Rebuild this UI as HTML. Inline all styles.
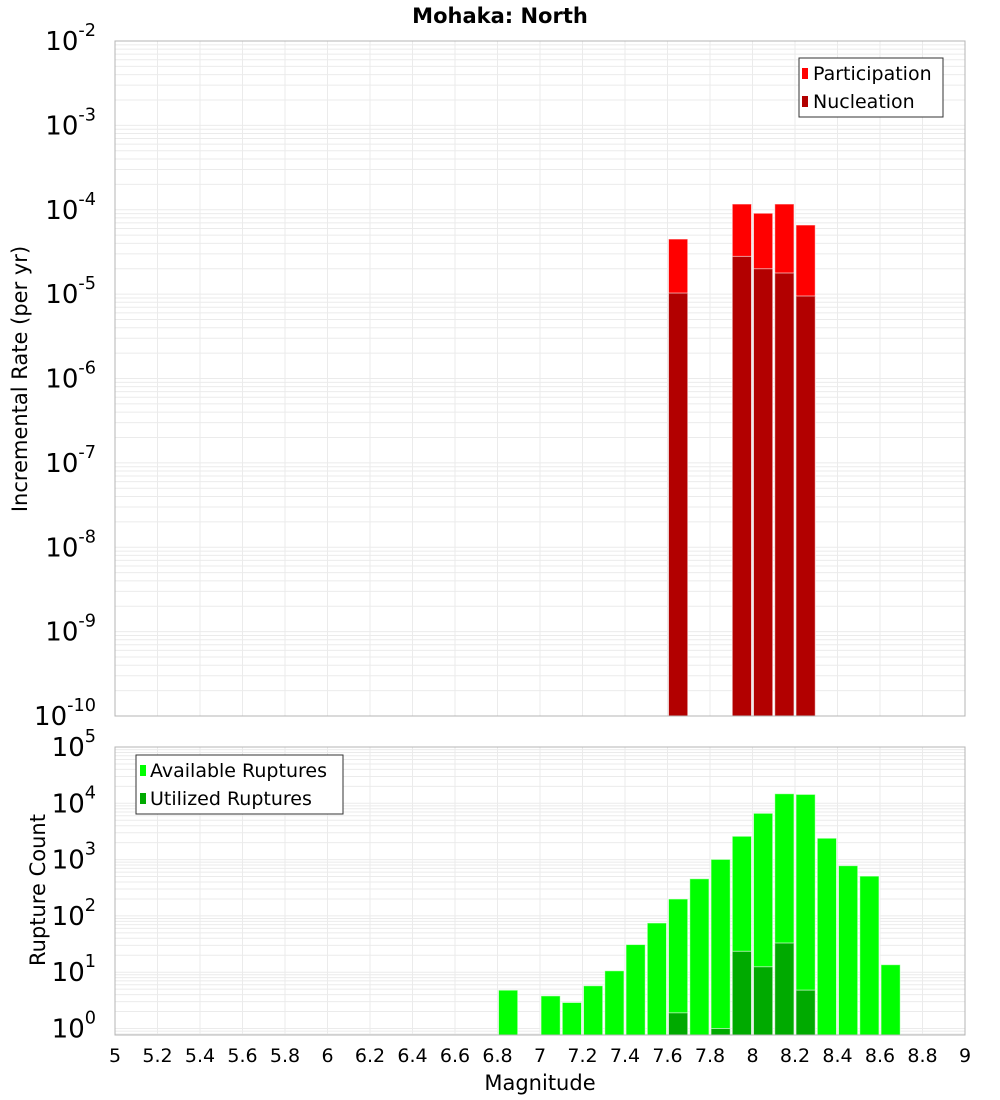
<!DOCTYPE html>
<html><head><meta charset="utf-8"><style>
body{margin:0;background:#fff;}
svg{display:block;font-family:"DejaVu Sans","Liberation Sans",sans-serif;}
</style></head><body>
<svg id="chart" width="1000" height="1100">
<text x="500" y="23" text-anchor="middle" font-size="21" font-weight="bold">Mohaka: North</text>
<g id="top"></g><g id="bot"></g>
<text transform="translate(27,379) rotate(-90)" text-anchor="middle" font-size="21">Incremental Rate (per yr)</text>
<text transform="translate(45,890) rotate(-90)" text-anchor="middle" font-size="21">Rupture Count</text>
<text x="540" y="1090" text-anchor="middle" font-size="21">Magnitude</text>
</svg>
<script>
const binCenters=[6.85,6.95,7.05,7.15,7.25,7.35,7.45,7.55,7.65,7.75,7.85,7.95,8.05,8.15,8.25,8.35,8.45,8.55,8.65];
const available=[4.8,0,3.8,2.9,5.75,10.6,31,75,200,457,1010,2600,6650,14800,14400,2400,780,510,13.6];
const utilized=[0,0,0,0,0,0,0,0,1.9,0,1.0,23.5,12.5,33,4.8,0,0,0,0];
const rateMags=[7.65,7.95,8.05,8.15,8.25];
const participation=[4.5e-5,1.17e-4,9.1e-5,1.17e-4,6.6e-5];
const nucleation=[1.03e-5,2.8e-5,2.0e-5,1.78e-5,9.5e-6];
const xTicks=[5,5.2,5.4,5.6,5.8,6,6.2,6.4,6.6,6.8,7,7.2,7.4,7.6,7.8,8,8.2,8.4,8.6,8.8,9];
const topExps=[-2,-3,-4,-5,-6,-7,-8,-9,-10];
const botExps=[5,4,3,2,1,0];
const NS='http://www.w3.org/2000/svg';
const L=115,R=965;
const xS=v=>L+(v-5)/4*(R-L);
const topY=v=>41+(-2-Math.log10(v))*84.375;
const botY=v=>747+(5-Math.log10(v))*56.3;
function mk(p,t,a){const e=document.createElementNS(NS,t);for(const k in a)e.setAttribute(k,a[k]);p.appendChild(e);return e;}
function panel(g,y0,y1,yS,expMin,expMax,name){
  const grid=mk(g,'g',{});
  
  
  for(let e=expMin;e<expMax+1;e++)for(let m=1;m<10;m++){const y=yS(m*Math.pow(10,e));if(y>=y0&&y<=y1)mk(grid,'line',{x1:L,x2:R,y1:y,y2:y,stroke:'#ebebeb','stroke-width':1});}
  xTicks.forEach(t=>{const x=xS(t);mk(grid,'line',{x1:x,x2:x,y1:y0,y2:y1,stroke:'#ebebeb','stroke-width':1});});
}
function bar(g,c,v,yS,base,fill,name){
  const x=xS(c-0.05)+1,w=xS(c+0.05)-xS(c-0.05)-2,y=yS(v);
  const r=mk(g,'rect',{x:x,y:y,width:w,height:base-y,fill:fill,stroke:'#fff','stroke-opacity':0.6,'stroke-width':1});
  
  
}
function ytick(g,x,y,exp,fs,name){
  const t=mk(g,'text',{x:x,y:y+9,'text-anchor':'end','font-size':fs});
  
  
  t.textContent='10';
  const s=mk(t,'tspan',{dy:-14,'font-size':fs*0.68});s.textContent=String(exp);
}
// top panel
const tg=document.getElementById('top');
panel(tg,41,716,topY,-10,-3,'top');
rateMags.forEach((c,i)=>{bar(tg,c,participation[i],topY,716,'#ff0000','participation-bar');});
rateMags.forEach((c,i)=>{bar(tg,c,nucleation[i],topY,716,'#b20000','nucleation-bar');});
const tf=mk(tg,'rect',{x:L,y:41,width:R-L,height:675,fill:'none',stroke:'#b4b4b4'});


topExps.forEach(e=>ytick(tg,96,topY(Math.pow(10,e)),e,26,'top-y-tick-label'));
// top legend
const tl=mk(tg,'g',{});


mk(tl,'rect',{x:799,y:58,width:144,height:59,fill:'#fff',stroke:'#333'});
mk(tl,'rect',{x:802,y:68,width:6,height:11,fill:'#ff0000'});
mk(tl,'rect',{x:802,y:96,width:6,height:11,fill:'#b20000'});
const tl1=mk(tl,'text',{x:813,y:80,'font-size':19});tl1.textContent='Participation';


const tl2=mk(tl,'text',{x:813,y:108,'font-size':19});tl2.textContent='Nucleation';


// bottom panel
const bg=document.getElementById('bot');
panel(bg,747,1035,botY,-1,4,'bottom');
binCenters.forEach((c,i)=>{if(available[i]>0)bar(bg,c,available[i],botY,1035,'#00ff00','available-bar');});
binCenters.forEach((c,i)=>{if(utilized[i]>0)bar(bg,c,utilized[i],botY,1035,'#00aa00','utilized-bar');});
const bf=mk(bg,'rect',{x:L,y:747,width:R-L,height:288,fill:'none',stroke:'#b4b4b4'});


botExps.forEach(e=>ytick(bg,96,botY(Math.pow(10,e)),e,26,'bottom-y-tick-label'));
xTicks.forEach(t=>{const tx=mk(bg,'text',{x:xS(t),y:1062,'text-anchor':'middle','font-size':19});tx.textContent=String(t);

});
const bl=mk(bg,'g',{});


mk(bl,'rect',{x:136,y:755,width:207,height:59,fill:'#fff',stroke:'#333'});
mk(bl,'rect',{x:140,y:765,width:6,height:11,fill:'#00ff00'});
mk(bl,'rect',{x:140,y:793,width:6,height:11,fill:'#00aa00'});
const bl1=mk(bl,'text',{x:150,y:777,'font-size':19});bl1.textContent='Available Ruptures';


const bl2=mk(bl,'text',{x:150,y:805,'font-size':19});bl2.textContent='Utilized Ruptures';


</script>
</body></html>
